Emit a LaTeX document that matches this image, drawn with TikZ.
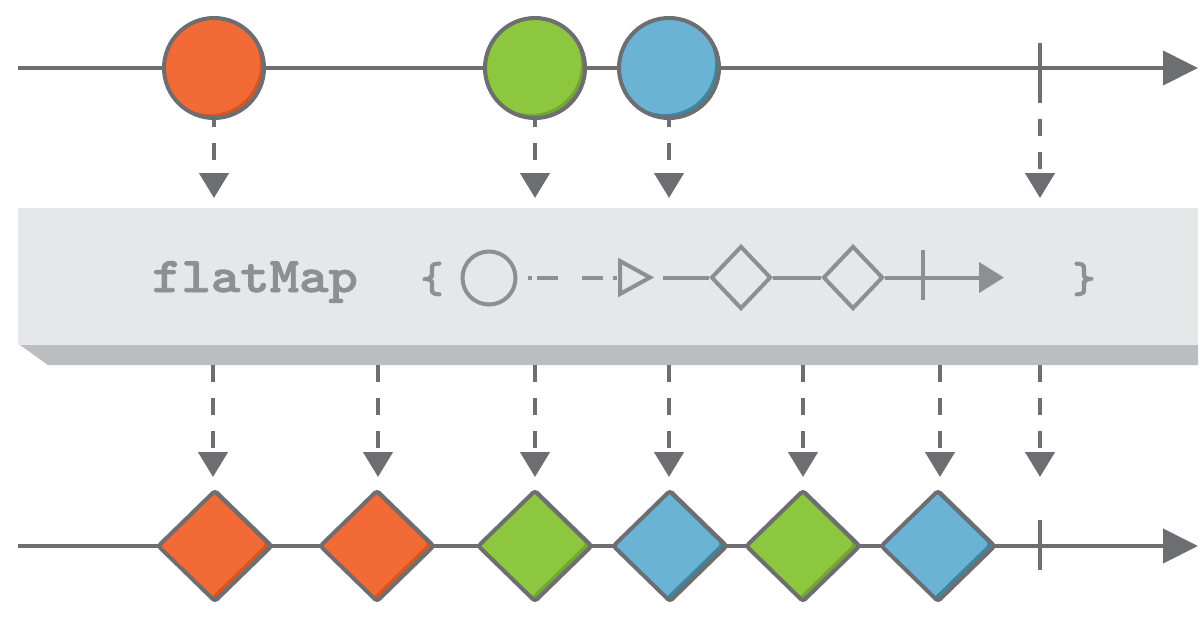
\documentclass[tikz,border=0pt]{standalone}
\usepackage{fontspec}
\newfontfamily\codefont{lmmonolt10-bold.otf}[FakeBold=1.6]
\usetikzlibrary{arrows.meta,shapes.geometric}
\definecolor{edge}{HTML}{6D6E71}
\definecolor{org}{HTML}{F26A36}
\definecolor{orgd}{HTML}{D9541F}
\definecolor{grn}{HTML}{8DC63F}
\definecolor{grnd}{HTML}{72A82E}
\definecolor{blu}{HTML}{6BB3D4}
\definecolor{blud}{HTML}{3D86A2}
\definecolor{boxc}{HTML}{E6E7E8}
\definecolor{bandc}{HTML}{BCBDC0}
\definecolor{ink}{HTML}{8E8F91}
\begin{document}
\begin{tikzpicture}[x=1pt,y=-1pt,
  timeline/.style={draw=edge, line width=4pt, -{Triangle[length=35pt,width=34pt]}},
  tickline/.style={draw=edge, line width=4pt},
  flow/.style={draw=edge, line width=4.5pt, dash pattern=on 17pt off 16pt, -{Triangle[length=25pt,width=29pt]}},
  ball/.style n args={2}{circle, draw=edge, line width=4pt, minimum size=100pt, inner sep=0pt, fill=#2,
    path picture={\fill[#1] ([shift={(-4pt,4pt)}]path picture bounding box.center) circle[radius=50pt];}},
  gem/.style n args={2}{diamond, draw=edge, line width=4pt, minimum width=115pt, minimum height=112pt, inner sep=0pt,
    rounded corners=3pt, fill=#2,
    path picture={\fill[#1] ([shift={(-6pt,2pt)}]path picture bounding box.west) -- ([shift={(-6pt,2pt)}]path picture bounding box.north) -- ([shift={(-6pt,2pt)}]path picture bounding box.east) -- ([shift={(-6pt,2pt)}]path picture bounding box.south) -- cycle;}},
  inkline/.style={draw=ink, line width=4pt},
  inkgem/.style={diamond, draw=ink, line width=4pt, minimum width=60pt, minimum height=63pt, inner sep=0pt},
  code/.style={text=ink, font=\codefont\fontsize{50}{50}\selectfont, inner sep=0pt},
  brace/.style={text=ink, font=\codefont\fontsize{44}{44}\selectfont, inner sep=0pt}
]
\useasboundingbox (0,0) rectangle (1200,630);
\fill[white] (0,0) rectangle (1200,630);

% top timeline
\coordinate (t0) at (18,68);
\coordinate (t1) at (1198,68);
\draw[timeline] (t0) -- (t1);
\node[ball={org}{orgd}] (c1) at (214,68) {};
\node[ball={grn}{grnd}] (c2) at (535,68) {};
\node[ball={blu}{blud}] (c3) at (669,68) {};
\coordinate (tk1a) at (1040,43);
\coordinate (tk1b) at (1040,93);
\draw[tickline] (tk1a) -- (tk1b);

% operator box
\node[fill=boxc, minimum width=1180pt, minimum height=137pt, inner sep=0pt, anchor=north west] (op) at (18,208) {};
\fill[bandc] (20,345) -- (1198,345) -- (1198,365) -- (48,365) -- cycle;

% top dashed connectors
\coordinate (a1) at (214,198);
\coordinate (a2) at (535,198);
\coordinate (a3) at (669,198);
\coordinate (a4) at (1040,198);
\draw[flow, dash phase=10pt] (c1.south) -- (a1);
\draw[flow, dash phase=10pt] (c2.south) -- (a2);
\draw[flow, dash phase=10pt] (c3.south) -- (a3);
\draw[flow, dash phase=7pt] (tk1b) -- (a4);

% operator content
\node[code, anchor=base, xscale=1.12, transform shape] (fm) at (255,292) {flatMap};
\node[brace] (lb) at (432,279) {\{};
\node[brace] (rb) at (1084,279) {\}};
\node[circle, draw=ink, line width=4pt, minimum size=53pt, inner sep=0pt] (ic) at (489,278) {};
\coordinate (trl) at (620,278);
\draw[inkline, dash pattern=on 0pt off 10pt on 4pt off 5pt on 21pt off 24pt on 21pt off 10pt on 4pt off 200pt] (ic.east) -- (trl);
\draw[inkline, line join=miter] (620,261) -- (650,277.5) -- (620,294) -- cycle;
\coordinate (ls) at (663,277.5);
\node[inkgem] (d1) at (741,277.5) {};
\node[inkgem] (d2) at (853,277.5) {};
\coordinate (iend) at (1004,277.5);
\draw[inkline] (ls) -- (d1.west);
\draw[inkline] (d1.east) -- (d2.west);
\draw[inkline, -{Triangle[length=25pt,width=30pt]}] (d2.east) -- (iend);
\coordinate (itka) at (923,250);
\coordinate (itkb) at (923,300);
\draw[inkline] (itka) -- (itkb);

% bottom timeline
\coordinate (b0) at (18,546);
\coordinate (b1) at (1198,546);
\draw[timeline] (b0) -- (b1);
\coordinate (tk2a) at (1040,520);
\coordinate (tk2b) at (1040,570);
\draw[tickline] (tk2a) -- (tk2b);
\node[gem={org}{orgd}] (g1) at (215,546) {};
\node[gem={org}{orgd}] (g2) at (377,546) {};
\node[gem={grn}{grnd}] (g3) at (535,546) {};
\node[gem={blu}{blud}] (g4) at (670,546) {};
\node[gem={grn}{grnd}] (g5) at (803,546) {};
\node[gem={blu}{blud}] (g6) at (938,546) {};

% bottom dashed connectors
\foreach \i/\x in {1/213,2/378,3/535,4/669,5/803,6/940,7/1040} {
  \coordinate (s\i) at (\x,365);
  \coordinate (e\i) at (\x,477);
  \draw[flow] (s\i) -- (e\i);
}
\end{tikzpicture}
\end{document}
